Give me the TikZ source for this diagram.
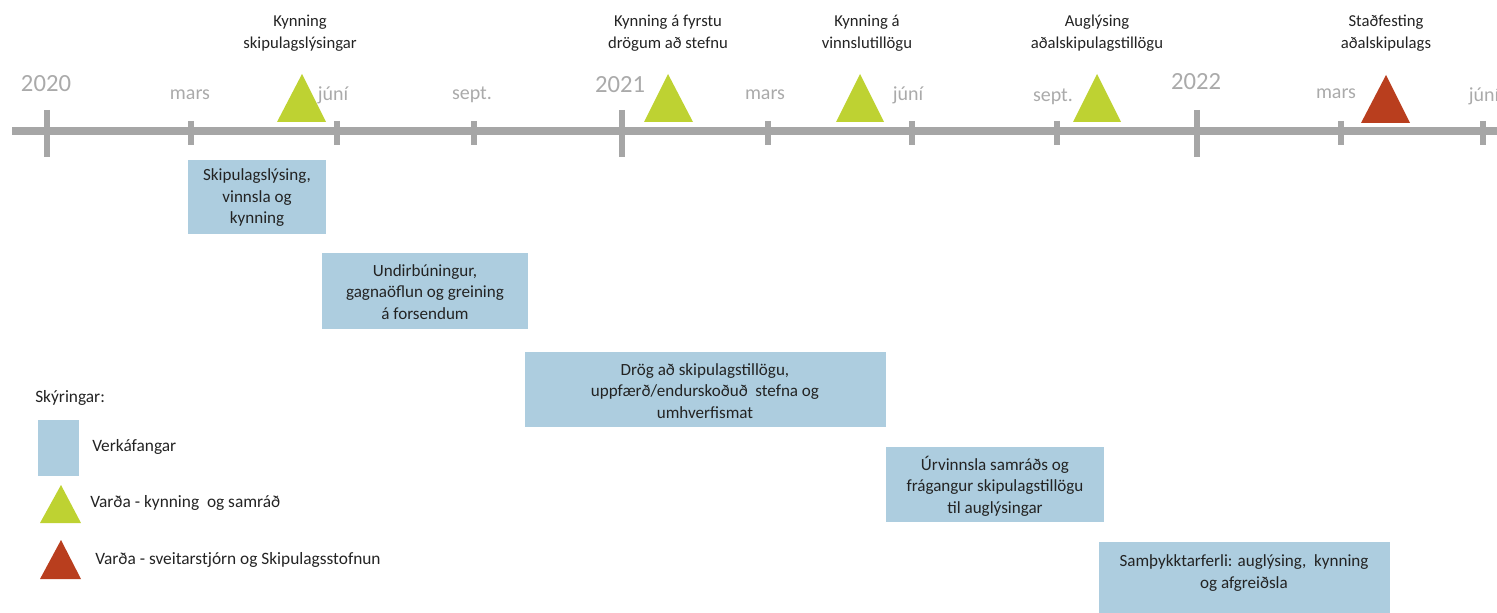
\documentclass[tikz,border=0pt]{standalone}
\usepackage{fontspec}
\setmainfont{Carlito}
\usetikzlibrary{fit}
\definecolor{tlgray}{RGB}{166,166,166}
\definecolor{lblgray}{RGB}{170,170,170}
\definecolor{lime}{RGB}{190,210,50}
\definecolor{rust}{RGB}{185,62,30}
\definecolor{boxblue}{RGB}{173,205,223}
\definecolor{txt}{RGB}{35,35,35}
\tikzset{
  x=0.75pt, y=-0.75pt,
  tline/.style={draw=tlgray, line width=6pt},
  majortick/.style={draw=tlgray, line width=4.5pt},
  minortick/.style={draw=tlgray, line width=4.5pt},
  yearlbl/.style={text=lblgray, font=\fontsize{18.5}{20}\selectfont, inner sep=0pt},
  monthlbl/.style={text=lblgray, font=\fontsize{15}{17}\selectfont, inner sep=0pt},
  mslbl/.style={text=txt, align=center, font=\fontsize{12.5}{16.5}\selectfont, inner sep=0pt},
  taskbox/.style={fill=boxblue, inner sep=0pt},
  tasktxt/.style={text=txt, align=center, font=\fontsize{12.8}{16.1}\selectfont, inner sep=0pt},
  legtxt/.style={text=txt, anchor=west, font=\fontsize{13}{15}\selectfont, inner sep=0pt},
}
\begin{document}
\begin{tikzpicture}
\useasboundingbox (0,0) rectangle (1497,613);
% timeline
\coordinate (tlstart) at (12,131);
\coordinate (tlend) at (1497,131);
\draw[tline] (tlstart) -- (tlend);
% major ticks
\foreach \x in {47,622,1197}{\draw[majortick] (\x,110) -- (\x,157);}
% minor ticks
\foreach \x in {191,337,474,768,912,1057,1341,1483}{\draw[minortick] (\x,121) -- (\x,145);}
% year labels
\node[yearlbl] (y2020) at (46,84) {2020};
\node[yearlbl] (y2021) at (620,85) {2021};
\node[yearlbl] (y2022) at (1196,82) {2022};
% month labels
\node[monthlbl] (m1) at (190,95) {mars};
\node[monthlbl] (m2) at (333,95) {júní};
\node[monthlbl] (m3) at (472,95) {sept.};
\node[monthlbl] (m4) at (765,95) {mars};
\node[monthlbl] (m5) at (908,95) {júní};
\node[monthlbl] (m6) at (1053,97) {sept.};
\node[monthlbl] (m7) at (1336,94) {mars};
\node[monthlbl] (m8) at (1484,96) {júní};
% milestone triangles
\fill[lime] (302,74) -- (326,122) -- (277,122) -- cycle;
\fill[lime] (668,74) -- (693,122) -- (644,122) -- cycle;
\fill[lime] (860,74) -- (884,122) -- (836,122) -- cycle;
\fill[lime] (1097,74) -- (1121,122) -- (1073,122) -- cycle;
\fill[rust] (1386,75) -- (1410,123) -- (1361,123) -- cycle;
% milestone labels
\node[mslbl] (ms1) at (300,33) {Kynning\\skipulagslýsingar};
\node[mslbl] (ms2) at (668,33) {Kynning á fyrstu\\drögum að stefnu};
\node[mslbl] (ms3) at (867,33) {Kynning á\\vinnslutillögu};
\node[mslbl] (ms4) at (1097,33) {Auglýsing\\aðalskipulagstillögu};
\node[mslbl] (ms5) at (1386,33) {Staðfesting\\aðalskipulags};
% task boxes
\node[taskbox, fit={(188,160) (326,234)}] (b1) {};
\node[tasktxt] (t1) at (257,198) {Skipulagslýsing,\\vinnsla og\\kynning};
\node[taskbox, fit={(322,253) (528,329)}] (b2) {};
\node[tasktxt] (t2) at (425,292) {Undirbúningur,\\gagnaöflun og greining\\á forsendum};
\node[taskbox, fit={(525,352) (886,427)}] (b3) {};
\node[tasktxt] (t3) at (705,391) {Drög að skipulagstillögu,\\uppfærð/endurskoðuð\ \ stefna og\\umhverfismat};
\node[taskbox, fit={(886,447) (1104,522)}] (b4) {};
\node[tasktxt] (t4) at (995,486) {Úrvinnsla samráðs og\\frágangur skipulagstillögu\\til auglýsingar};
\node[taskbox, fit={(1099,542) (1390,613)}] (b5) {};
\node[tasktxt] (t5) at (1244,573) {Samþykktarferli: auglýsing,\ \ kynning\\og afgreiðsla};
% legend
\node[legtxt] (leghead) at (35,398) {Skýringar:};
\node[taskbox, fit={(38,420) (79,476)}] (legbox) {};
\node[legtxt] (legt1) at (92,447) {Verkáfangar};
\fill[lime] (61,485) -- (81,523) -- (40,523) -- cycle;
\node[legtxt] (legt2) at (90,503) {Varða - kynning\ \ og samráð};
\fill[rust] (61,540) -- (81,579) -- (40,579) -- cycle;
\node[legtxt] (legt3) at (95,560) {Varða - sveitarstjórn og Skipulagsstofnun};
\end{tikzpicture}
\end{document}
